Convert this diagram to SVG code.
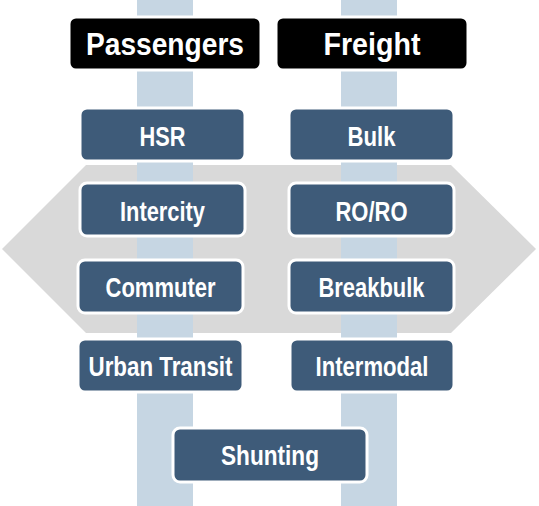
<svg xmlns="http://www.w3.org/2000/svg" width="539" height="506" viewBox="0 0 539 506">
<style>
.hdr{fill:#000;stroke:#fff;stroke-width:3}
.box{fill:#3e5b79;stroke:#fff;stroke-width:3}
.t{fill:#fff;font-family:"Liberation Sans Narrow","Liberation Sans",Arial,sans-serif;font-weight:bold;font-size:27px;text-anchor:middle}
.th{font-size:31px}
.rail{fill:#c6d6e3}
</style>
<rect width="539" height="506" fill="#fff"/>
<polygon id="arrow" points="2,249 86,165 451,165 536,249 451,333 86,333" fill="#d9d9d9"/>
<g id="rails">
<rect class="rail" x="137" y="0" width="56" height="506"/>
<rect class="rail" x="341" y="0" width="56" height="506"/>
</g>
<g id="passengers"><rect class="hdr" x="69" y="17" width="192" height="53" rx="7"/><text class="t th" x="165" y="55" textLength="158" lengthAdjust="spacingAndGlyphs">Passengers</text></g>
<g id="freight"><rect class="hdr" x="276" y="17" width="192" height="53" rx="7"/><text class="t th" x="372" y="55" textLength="97" lengthAdjust="spacingAndGlyphs">Freight</text></g>
<g id="hsr"><rect class="box" x="80" y="108" width="165" height="53" rx="7"/><text class="t" x="162.5" y="146" textLength="46" lengthAdjust="spacingAndGlyphs">HSR</text></g>
<g id="bulk"><rect class="box" x="289" y="108" width="165" height="53" rx="7"/><text class="t" x="371.5" y="146" textLength="48" lengthAdjust="spacingAndGlyphs">Bulk</text></g>
<g id="intercity"><rect class="box" x="80" y="183" width="165" height="53" rx="7"/><text class="t" x="162.5" y="221" textLength="85" lengthAdjust="spacingAndGlyphs">Intercity</text></g>
<g id="roro"><rect class="box" x="289" y="183" width="165" height="53" rx="7"/><text class="t" x="371.5" y="221" textLength="72" lengthAdjust="spacingAndGlyphs">RO/RO</text></g>
<g id="commuter"><rect class="box" x="78" y="260" width="165" height="53" rx="7"/><text class="t" x="160.5" y="297" textLength="110" lengthAdjust="spacingAndGlyphs">Commuter</text></g>
<g id="breakbulk"><rect class="box" x="289" y="260" width="165" height="53" rx="7"/><text class="t" x="371.5" y="297" textLength="106" lengthAdjust="spacingAndGlyphs">Breakbulk</text></g>
<g id="urban-transit"><rect class="box" x="78" y="339" width="165" height="53" rx="7"/><text class="t" x="160.5" y="376" textLength="144" lengthAdjust="spacingAndGlyphs">Urban Transit</text></g>
<g id="intermodal"><rect class="box" x="290" y="339" width="164" height="53" rx="7"/><text class="t" x="372" y="376" textLength="113" lengthAdjust="spacingAndGlyphs">Intermodal</text></g>
<g id="shunting"><rect class="box" x="173" y="428" width="194" height="54" rx="7"/><text class="t" x="270" y="465" textLength="98" lengthAdjust="spacingAndGlyphs">Shunting</text></g>
</svg>
